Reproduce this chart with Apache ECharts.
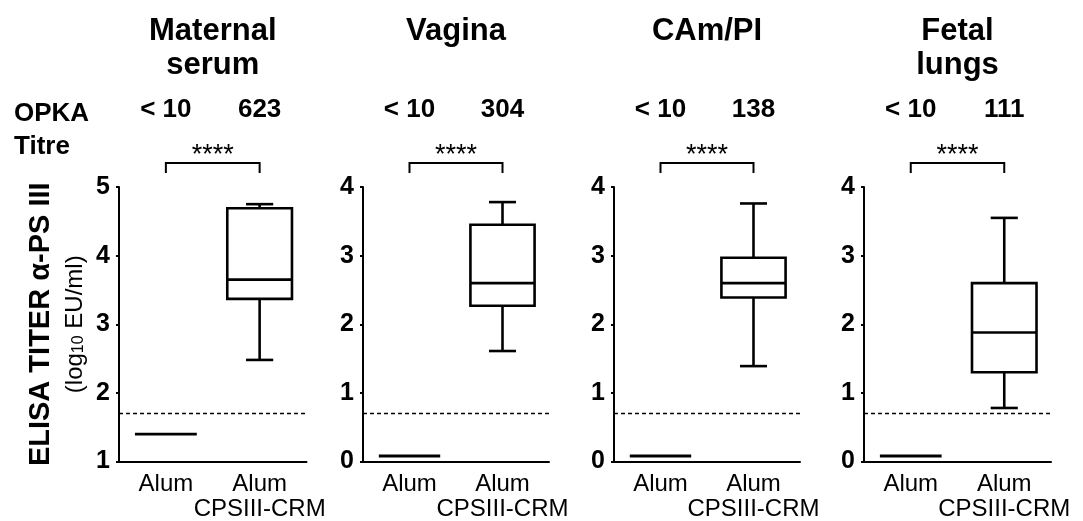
<!DOCTYPE html>
<html><head><meta charset="utf-8">
<script src="https://cdn.jsdelivr.net/npm/echarts@6/dist/echarts.min.js"></script>
<style>html,body{margin:0;padding:0;background:#fff}#c{width:1083px;height:521px}</style>
</head><body><div id="c"></div>
<script>
// ---- data ----
const categories = ['Alum', 'Alum\nCPSIII-CRM'];
const panelTitles = ['Maternal\nserum', 'Vagina', 'CAm/PI', 'Fetal\nlungs'];
const opkaAlum = ['< 10', '< 10', '< 10', '< 10'];
const opkaCps = ['623', '304', '138', '111'];
const significance = ['****', '****', '****', '****'];
const alumValues = [1.40, 0.08, 0.08, 0.08];
// [low whisker, Q1, median, Q3, high whisker]
const cpsMaternal = [2.48, 3.37, 3.65, 4.69, 4.75];
const cpsVagina = [1.61, 2.27, 2.60, 3.45, 3.78];
const cpsCAm = [1.39, 2.39, 2.60, 2.97, 3.76];
const cpsFetal = [0.78, 1.30, 1.88, 2.60, 3.55];
const detectionLimits = [1.7, 0.7, 0.7, 0.7];
const yMins = [1, 0, 0, 0];
const yMaxs = [5, 4, 4, 4];
const yTickInterval = 1;

const cpsBoxes = [cpsMaternal, cpsVagina, cpsCAm, cpsFetal];

// ---- layout / style ----
const FF = "'Liberation Sans', Arial, Helvetica, sans-serif";
const gridLefts = [119, 363, 614, 864];
const gridWidths = [187.5, 186, 186, 187];
const GRID_TOP = 187, GRID_H = 274.5;

const chart = echarts.init(document.getElementById('c'), null, {renderer: 'canvas'});

function txt(text, x, y, size, weight, align, valign, lh) {
  return {type: 'text', style: {text: text, x: x, y: y, fill: '#000', fontSize: size, fontWeight: weight,
    fontFamily: FF, align: align, verticalAlign: valign, textAlign: align, textVerticalAlign: valign,
    lineHeight: lh || size}};
}

function renderAlum(params, api) {
  const p = api.coord([api.value(0), api.value(1)]);
  const hw = api.size([1, 0])[0] * 0.33;
  return {type: 'line', shape: {x1: p[0] - hw, y1: p[1], x2: p[0] + hw, y2: p[1]},
    style: {stroke: '#000', lineWidth: 2.8}};
}

function renderBox(params, api) {
  const x = api.value(0);
  const low = api.coord([x, api.value(1)]);
  const q1 = api.coord([x, api.value(2)]);
  const med = api.coord([x, api.value(3)]);
  const q3 = api.coord([x, api.value(4)]);
  const high = api.coord([x, api.value(5)]);
  const band = api.size([1, 0])[0];
  const cx = low[0];
  const hb = band * 0.345, hc = band * 0.145;
  const st = {stroke: '#000', lineWidth: 2.6, fill: 'none'};
  return {type: 'group', children: [
    {type: 'line', shape: {x1: cx, y1: q3[1], x2: cx, y2: high[1]}, style: st},
    {type: 'line', shape: {x1: cx, y1: q1[1], x2: cx, y2: low[1]}, style: st},
    {type: 'line', shape: {x1: cx - hc, y1: high[1], x2: cx + hc, y2: high[1]}, style: st},
    {type: 'line', shape: {x1: cx - hc, y1: low[1], x2: cx + hc, y2: low[1]}, style: st},
    {type: 'rect', shape: {x: cx - hb, y: q3[1], width: 2 * hb, height: q1[1] - q3[1]}, style: {stroke: '#000', lineWidth: 2.6, fill: '#fff'}},
    {type: 'line', shape: {x1: cx - hb, y1: med[1], x2: cx + hb, y2: med[1]}, style: st}
  ]};
}

function makeAnnot(i) {
  return function (params, api) {
    const a = api.coord([api.value(0), api.value(2)]);
    const b = api.coord([api.value(1), api.value(2)]);
    const top = a[1];
    const mid = (a[0] + b[0]) / 2;
    return {type: 'group', children: [
      txt(panelTitles[i], mid, top - 173, 31, 'bold', 'center', 'top', 34),
      txt(opkaAlum[i], a[0], top - 77, 26, 'bold', 'center', 'middle'),
      txt(opkaCps[i], b[0], top - 77, 26, 'bold', 'center', 'middle'),
      txt(significance[i], mid, top - 31, 27, 'normal', 'center', 'middle'),
      {type: 'polyline', shape: {points: [[a[0], top - 14], [a[0], top - 24], [b[0], top - 24], [b[0], top - 14]]},
        style: {stroke: '#000', lineWidth: 2, fill: 'none'}}
    ]};
  };
}

const grids = [], xAxes = [], yAxes = [], series = [];
for (let i = 0; i < 4; i++) {
  grids.push({left: gridLefts[i], top: GRID_TOP, width: gridWidths[i], height: GRID_H, containLabel: false, outerBoundsMode: 'none'});
  xAxes.push({
    type: 'category', gridIndex: i, data: categories, boundaryGap: true,
    axisLine: {show: true, onZero: false, lineStyle: {color: '#000', width: 2}},
    axisTick: {show: false},
    axisLabel: {interval: 0, color: '#000', fontSize: 24, fontFamily: FF, lineHeight: 25, margin: 10},
    splitLine: {show: false}
  });
  const ya = {
    type: 'value', gridIndex: i, min: yMins[i], max: yMaxs[i], interval: yTickInterval,
    axisLine: {show: true, lineStyle: {color: '#000', width: 2}},
    axisTick: {show: true, length: 3, lineStyle: {color: '#000', width: 2}},
    axisLabel: {color: '#000', fontSize: 25, fontWeight: 'bold', fontFamily: FF, margin: 9},
    splitLine: {show: false}
  };
  if (i === 0) {
    ya.name = '{a|ELISA TITER α-PS III}\n{b|(log}{s|10}{b| EU/ml)}';
    ya.nameLocation = 'middle';
    ya.nameRotate = 90;
    ya.nameGap = 32;
    ya.nameTextStyle = {
      color: '#000',
      rich: {
        a: {fontSize: 29, fontWeight: 'bold', fontFamily: FF, color: '#000', lineHeight: 33},
        b: {fontSize: 24, fontFamily: FF, color: '#000', lineHeight: 30, verticalAlign: 'bottom'},
        s: {fontSize: 16, fontFamily: FF, color: '#000', lineHeight: 17, verticalAlign: 'bottom'}
      }
    };
  }
  yAxes.push(ya);

  series.push({
    type: 'line', xAxisIndex: i, yAxisIndex: i, data: [], silent: true,
    markLine: {silent: true, symbol: 'none', animation: false,
      label: {show: false},
      lineStyle: {color: '#000', type: [4, 3], width: 1.3},
      data: [{yAxis: detectionLimits[i]}]}
  });
  series.push({
    type: 'custom', xAxisIndex: i, yAxisIndex: i, renderItem: renderAlum, clip: false,
    encode: {x: 0, y: 1}, data: [[0, alumValues[i]]], animation: false
  });
  series.push({
    type: 'custom', xAxisIndex: i, yAxisIndex: i, renderItem: renderBox, clip: false,
    encode: {x: 0, y: [1, 2, 3, 4, 5]}, data: [[1].concat(cpsBoxes[i])], animation: false
  });
  series.push({
    type: 'custom', xAxisIndex: i, yAxisIndex: i, renderItem: makeAnnot(i), clip: false,
    encode: {x: [0, 1], y: 2}, data: [[0, 1, yMaxs[i]]], animation: false, silent: true
  });
}

chart.setOption({
  animation: false,
  backgroundColor: '#fff',
  grid: grids,
  xAxis: xAxes,
  yAxis: yAxes,
  graphic: [{
    type: 'text', left: 14, top: 97,
    style: {text: 'OPKA\nTitre', fill: '#000', fontSize: 26, fontWeight: 'bold', fontFamily: FF, lineHeight: 33}
  }],
  series: series
});
</script>
</body></html>
